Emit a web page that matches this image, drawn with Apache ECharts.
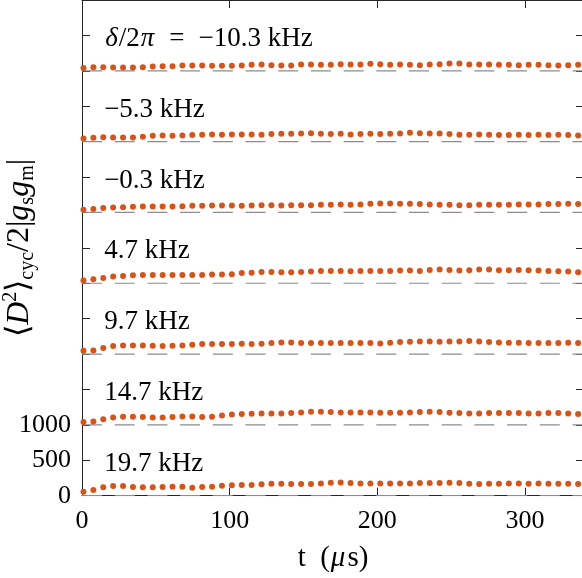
<!DOCTYPE html>
<html><head><meta charset="utf-8">
<script src="https://cdn.jsdelivr.net/npm/echarts@6/dist/echarts.min.js"></script>
<style>html,body{margin:0;padding:0;background:#fff}#c{width:582px;height:578px}</style>
</head><body><div id="c"></div>
<script>
// time axis (µs)
const t = [1, 7.7, 14.4, 21.1, 27.8, 34.5, 41.2, 47.9, 54.6, 61.3, 68, 74.7, 81.4, 88.1, 94.8, 101.5, 108.2, 114.9, 121.6, 128.3, 135, 141.7, 148.4, 155.1, 161.8, 168.5, 175.2, 181.9, 188.6, 195.3, 202, 208.7, 215.4, 222.1, 228.8, 235.5, 242.2, 248.9, 255.6, 262.3, 269, 275.7, 282.4, 289.1, 295.8, 302.5, 309.2, 315.9, 322.6, 329.3, 336];

// detuning labels and vertical offsets
const detuningLabels = ['{i|δ}/2{i|π}{eq|=}−10.3 kHz', '−5.3 kHz', '−0.3 kHz', '4.7 kHz', '9.7 kHz', '14.7 kHz', '19.7 kHz'];
const offsets = [6000, 5000, 4000, 3000, 2000, 1000, 0];

// series values (before offset)
const dm10_3 = [40,52,52,47,47,47,52,61,66,66,75,75,75,71,71,71,75,85,89,80,75,75,89,89,85,85,94,89,89,99,94,85,89,85,80,89,94,103,103,89,89,89,85,85,80,85,85,80,75,80,85];
const dm5_3 = [45,54,63,59,59,59,68,82,87,82,87,92,96,101,96,101,101,101,96,106,110,110,115,120,110,106,110,101,106,110,106,110,115,125,120,115,115,106,96,96,101,96,92,92,96,92,96,92,96,92,87];
const dm0_3 = [38,47,61,71,75,80,85,85,85,85,89,94,94,99,99,99,94,99,103,103,99,103,103,103,108,108,113,108,113,122,127,127,122,122,118,113,108,108,103,103,108,108,108,108,113,113,113,118,118,122,118];
const d4_7 = [38,56,75,94,103,113,118,118,118,118,118,118,118,122,122,127,146,150,160,160,155,155,160,165,174,174,174,169,174,174,174,174,179,179,174,188,193,188,179,183,193,193,183,183,188,183,179,174,169,165,155];
const d9_7 = [47,52,85,113,122,122,122,118,113,118,122,132,141,141,141,141,146,141,146,155,165,165,155,155,155,155,155,155,155,155,150,160,169,174,179,179,174,179,179,183,179,169,165,160,160,155,155,155,155,160,155];
const d14_7 = [40,49,78,106,115,115,110,106,106,110,120,120,110,115,134,148,153,157,162,162,162,167,176,186,186,181,176,176,176,176,172,172,172,176,181,186,181,172,167,162,162,167,167,167,167,162,162,167,167,162,153];
const d19_7 = [56,80,118,136,136,122,118,118,122,127,127,113,122,127,141,146,150,150,160,169,169,165,165,165,174,183,188,179,174,174,174,174,174,174,179,179,179,183,179,169,165,169,169,174,174,169,174,169,169,169,165];
const seriesValues = [dm10_3, dm5_3, dm0_3, d4_7, d9_7, d14_7, d19_7];

// axis ticks
const xTicks = [0, 100, 200, 300];
const yTickLabels = [0, 500, 1000];
const yTicks = [0, 500, 1000, 1500, 2000, 2500, 3000, 3500, 4000, 4500, 5000, 5500, 6000, 6500];
const xMax = 340, yMax = 7000, labelT = 15, labelDy = 450;

const FONT = 'Liberation Serif';
const axisColor = '#262626';
const dotColor = '#D95319';

const series = [];
offsets.forEach((off) => {
  series.push({
    type: 'line', silent: true, symbol: 'none', z: 1,
    data: [[0, off], [xMax, off]],
    lineStyle: { color: '#8c8c8c', width: 1.2, type: [20, 12.7] }
  });
});
seriesValues.forEach((vals, k) => {
  series.push({
    type: 'scatter', z: 3, symbolSize: 6,
    itemStyle: { color: dotColor, opacity: 1 },
    data: t.map((x, i) => [x, vals[i] + offsets[k]])
  });
});
series.push({
  type: 'scatter', z: 4, symbolSize: 0, silent: true,
  data: detuningLabels.map((s, k) => ({ value: [labelT, offsets[k] + labelDy], name: s })),
  label: {
    show: true, position: 'right', distance: 0,
    formatter: p => p.name,
    fontFamily: FONT, fontSize: 27, color: '#000', opacity: 1,
    rich: {
      i: { fontFamily: FONT, fontSize: 27, fontStyle: 'italic', color: '#000', padding: [0, 1, 0, 1] },
      eq: { fontFamily: FONT, fontSize: 27, color: '#000', padding: [0, 14, 0, 14] }
    }
  }
});

const chart = echarts.init(document.getElementById('c'), null, { renderer: 'canvas' });
chart.setOption({
  animation: false,
  backgroundColor: '#fff',
  grid: { left: 82, right: -2, top: 0, bottom: 82.3, containLabel: false, outerBoundsMode: 'none' },
  xAxis: [{
    type: 'value', min: 0, max: xMax, position: 'bottom',
    name: '{a|t  (}{i|μ}{a|s)}', nameLocation: 'middle', nameGap: 48, nameMoveOverlap: false,
    nameTextStyle: { fontFamily: FONT, fontSize: 29, color: '#000',
      rich: {
        a: { fontFamily: FONT, fontSize: 29, color: '#000' },
        i: { fontFamily: FONT, fontSize: 29, fontStyle: 'italic', color: '#000', padding: [0, 2, 0, 1] }
      } },
    axisLine: { show: true, onZero: false, lineStyle: { color: axisColor, width: 1 } },
    axisTick: { show: true, inside: true, length: 8, customValues: xTicks, lineStyle: { color: axisColor } },
    axisLabel: { show: true, customValues: xTicks, margin: 12, fontFamily: FONT, fontSize: 26, color: '#000', formatter: v => String(v) },
    splitLine: { show: false }
  }, {
    type: 'value', min: 0, max: xMax, position: 'top',
    axisLine: { show: true, onZero: false, lineStyle: { color: axisColor, width: 1 } },
    axisTick: { show: true, inside: true, length: 8, customValues: xTicks, lineStyle: { color: axisColor } },
    axisLabel: { show: false }, splitLine: { show: false }
  }],
  yAxis: [{
    type: 'value', min: 0, max: yMax, position: 'left',
    name: '⟨{i|D}{sup|2}⟩{sub|cyc}/2|{i|g}{sub|s}{i|g}{sub|m}|',
    nameLocation: 'middle', nameRotate: 90, nameGap: 44, nameMoveOverlap: false,
    nameTextStyle: { fontFamily: FONT, fontSize: 32, color: '#000', lineHeight: 37,
      rich: {
        i: { fontFamily: FONT, fontSize: 32, fontStyle: 'italic', color: '#000', lineHeight: 37 },
        sup: { fontFamily: FONT, fontSize: 20, color: '#000', verticalAlign: 'top', lineHeight: 37, padding: [0, 0, 13, 0] },
        sub: { fontFamily: FONT, fontSize: 20, color: '#000', verticalAlign: 'bottom', lineHeight: 37, padding: [11, 0, 0, 0] }
      } },
    axisLine: { show: true, onZero: false, lineStyle: { color: axisColor, width: 1 } },
    axisTick: { show: true, inside: true, length: 8, customValues: yTicks, lineStyle: { color: axisColor } },
    axisLabel: { show: true, customValues: yTickLabels, margin: 11, fontFamily: FONT, fontSize: 26, color: '#000', formatter: v => String(v) },
    splitLine: { show: false }
  }, {
    type: 'value', min: 0, max: yMax, position: 'right',
    axisLine: { show: true, onZero: false, lineStyle: { color: axisColor, width: 1 } },
    axisTick: { show: true, inside: true, length: 8, customValues: yTicks, lineStyle: { color: axisColor } },
    axisLabel: { show: false }, splitLine: { show: false }
  }],
  series: series
});
</script></body></html>
